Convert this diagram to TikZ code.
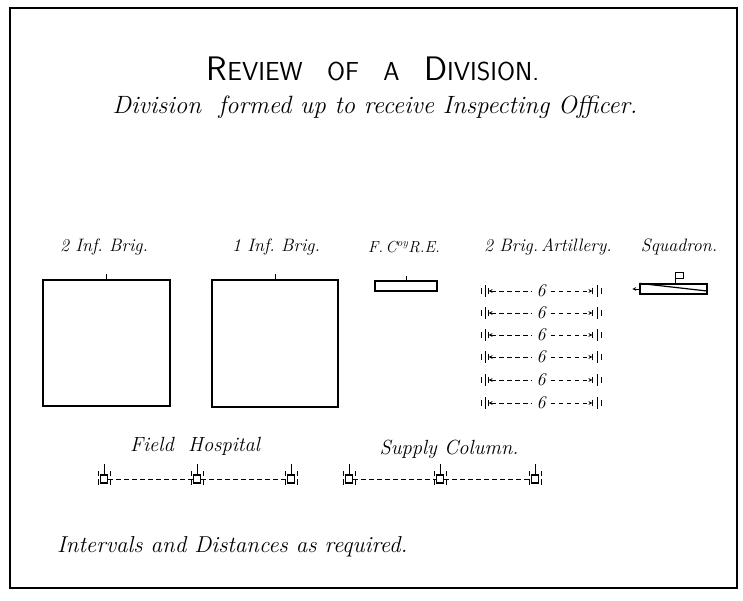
\documentclass[tikz,border=0pt]{standalone}
\usetikzlibrary{arrows}
\usetikzlibrary{positioning}

\frenchspacing
\tikzset{
    lab/.style={font=\fontsize{18}{20}\selectfont\itshape, inner sep=1pt},
    biglab/.style={font=\fontsize{20.5}{22}\selectfont\itshape, inner sep=1pt},
    unitbox/.style={draw, line width=1.3pt, inner sep=0pt},
    wagonbox/.style={draw, line width=1.1pt, minimum width=7pt, minimum height=8pt, inner sep=0pt},
    gap/.style={dashed, dash pattern=on 4.5pt off 3.5pt, line width=0.7pt},
}

\begin{document}
\begin{tikzpicture}[>=stealth, x=1pt, y=-1pt]
    \useasboundingbox (0,0) rectangle (743,600);
    \draw[line width=1.6pt] (10,8) rectangle (737,588);

    % title
    \node (title) at (373,69) {\sffamily\fontsize{34}{34}\selectfont R\fontsize{26}{26}\selectfont EVIEW\ \ \ OF\ \ \ A\ \ \ \fontsize{34}{34}\selectfont D\fontsize{26}{26}\selectfont IVISION.};
    \node (sub) at (375,107) {\fontsize{25}{27}\selectfont\itshape Division\ \ formed up to receive Inspecting Officer.};

    % infantry
    \node (brig2) [unitbox, minimum width=127pt, minimum height=126pt] at (106.5,343) {};
    \node (brig1) [unitbox, minimum width=126pt, minimum height=127pt] at (275,343.5) {};
    \node (brig2lab) [lab] at (104,247) {2 Inf. Brig.};
    \node (brig1lab) [lab] at (276,247) {1 Inf. Brig.};
    \draw[line width=0.8pt] (brig2.north) -- ++(0,-5);
    \draw[line width=0.8pt] (brig1.north) -- ++(0,-5);

    % engineers
    \node (coy) [unitbox, minimum width=62pt, minimum height=10pt] at (406,286) {};
    \node (coylab) [lab, font=\fontsize{16}{18}\selectfont\itshape] at (404,247) {F.\,C\textsuperscript{oy}R.E.};
    \draw[line width=0.8pt] (coy.north) -- ++(0,-4);

    % artillery
    \node (artlab) [lab] at (548,247) {2 Brig.\,Artillery.};
    \foreach \i/\y in {1/291,2/313,3/335,4/357,5/380,6/403} {
        \node (six\i) [lab, inner sep=5pt] at (541,\y) {6};
        \coordinate (al\i) at (488,\y);
        \coordinate (ar\i) at (593,\y);
        \draw[gap, |<-] (al\i) -- (six\i);
        \draw[gap, ->|] (six\i) -- (ar\i);
        \draw[line width=1pt] (485,\y-6) -- (485,\y+6);
        \draw[line width=0.8pt] (481,\y-3) -- (481,\y+3);
        \draw[line width=1pt] (597,\y-6) -- (597,\y+6);
        \draw[line width=0.8pt] (601,\y-3) -- (601,\y+3);
    }

    % cavalry
    \node (sqlab) [lab] at (679,247) {Squadron.};
    \node (sq) [unitbox, minimum width=67pt, minimum height=10pt] at (673.5,289) {};
    \draw[line width=1.2pt] (sq.north west) -- (707,291);
    \draw[line width=0.8pt] (sq.north) ++(2,0) -- ++(0,-11) -- ++(8,0) -- ++(0,6) -- ++(-8,0);
    \draw[gap, ->] (sq.west) -- ++(-7,0);

    % trains
    \node (fhlab) [biglab] at (195,446) {Field\ \ Hospital};
    \node (sclab) [biglab] at (449,449) {Supply Column.};
    \foreach \n/\x in {fh1/104,fh2/197,fh3/291,sc1/349,sc2/440,sc3/535} {
        \node (\n) [wagonbox] at (\x,479) {};
        \draw[line width=1pt] (\n.north) -- ++(0,-10);
        \foreach \s in {-6,6} {
            \draw[line width=1pt] ([xshift=\s pt,yshift=8pt]\n.center) -- ++(0,5);
            \draw[line width=1pt] ([xshift=\s pt]\n.center) -- ++(0,6);
        }
    }
    \draw[gap] (fh1) -- (fh2);
    \draw[gap] (fh2) -- (fh3);
    \draw[gap] (sc1) -- (sc2);
    \draw[gap] (sc2) -- (sc3);

    \node (note) [lab, anchor=west, font=\fontsize{23}{25}\selectfont\itshape] at (56,547) {Intervals and Distances as required.};
\end{tikzpicture}
\end{document}
